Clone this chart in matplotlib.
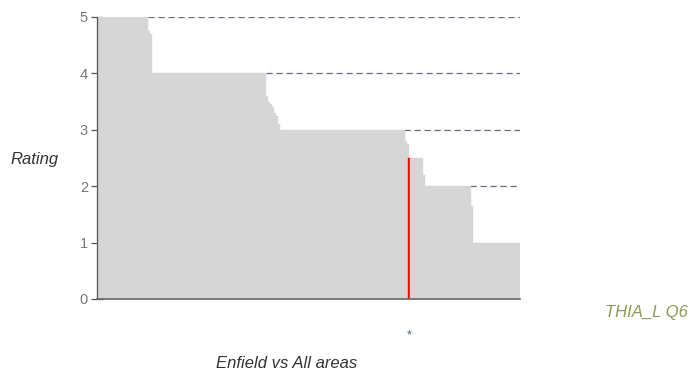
import numpy as np
import matplotlib
matplotlib.use("Agg")
import matplotlib.pyplot as plt

plt.rcParams["font.family"] = ["Liberation Sans", "DejaVu Sans"]

# Ratings of all areas, sorted descending (runs of equal value)
run_values = [5.0, 4.75, 4.7, 4.0, 3.6, 3.5, 3.45, 3.4, 3.3, 3.25, 3.1, 3.0,
              2.8, 2.75, 2.5, 2.5, 2.2, 2.0, 1.65, 1.0]
run_counts = [25, 1, 1, 57, 1, 1, 1, 1, 1, 1, 1, 62,
              1, 1, 1, 6, 1, 23, 1, 24]
highlight_run = 14          # the run that is Enfield
highlight_label = "*"
y_ticks = [0, 1, 2, 3, 4, 5]
title_text = "THIA_L Q6"
y_label = "Rating"
x_label = "Enfield vs All areas"

values = np.repeat(run_values, run_counts)
n = len(values)
hl_index = int(np.sum(run_counts[:highlight_run]))
gray = "#d6d6d6"
colors = [gray] * n
colors[hl_index] = "#ff0000"

fig = plt.figure(figsize=(6.9, 3.76), dpi=100)
ax = fig.add_axes([97/690, 1-299/376, (520-97)/690, (299-17)/376])

x = np.arange(n)
ax.bar(x, values, width=1.0, color=colors, edgecolor=colors, linewidth=1.0, zorder=2)

ax.set_xlim(-0.5, n - 0.5)
ax.set_ylim(0, 5)
ax.set_yticks(y_ticks)
ax.set_yticklabels([str(t) for t in y_ticks], color="#777777", fontsize=10.5)
# dashed grid lines, visible only where the bars do not cover them
for t in y_ticks[1:]:
    below = np.nonzero(values < t - 1e-9)[0]
    if len(below):
        ax.hlines(t, below[0] - 0.3, n - 0.5, colors="#6a6a80",
                  linestyles=(0, (5, 3)), linewidth=0.9, zorder=1)

ax.set_xticks([hl_index])
ax.set_xticklabels([highlight_label], color="#50608a", fontsize=9)
ax.tick_params(axis="x", length=0, pad=22)
ax.tick_params(axis="y", direction="inout", length=9, width=0.9, color="#555555", pad=2)

for s in ["top", "right"]:
    ax.spines[s].set_visible(False)
ax.spines["left"].set_color("#555555")
ax.spines["bottom"].set_color("#666666")
ax.spines["left"].set_linewidth(0.9)
ax.spines["bottom"].set_linewidth(1.2)
ax.spines["left"].set_zorder(3)
ax.spines["bottom"].set_zorder(3)

fig.text(10/690, 1-160/376, y_label, fontsize=12, style="italic", color="#333333",
         ha="left", va="center")
fig.text(287/690, 1-364/376, x_label, fontsize=12, style="italic", color="#333333",
         ha="center", va="center")
fig.text(688/690, 1-312/376, title_text, fontsize=12, style="italic", color="#8e9a55",
         ha="right", va="center")

fig.savefig("out.png", dpi=100)
